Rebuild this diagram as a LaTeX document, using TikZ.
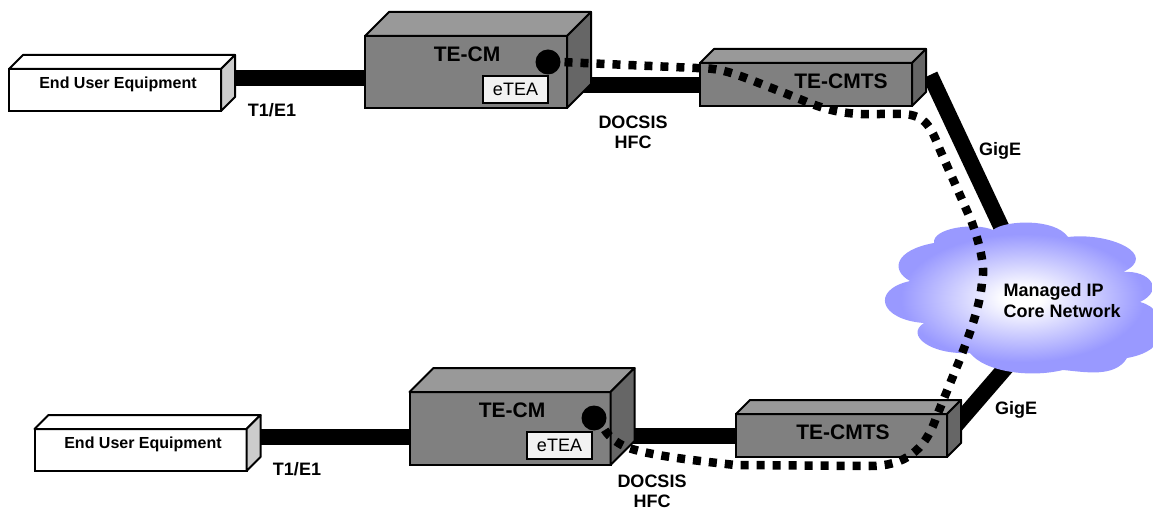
\documentclass[tikz,border=0pt]{standalone}
\usepackage{fontspec}
\setmainfont{Liberation Sans}
\usetikzlibrary{calc,backgrounds}

\definecolor{cloudblue}{HTML}{9999FF}
\pgfdeclareradialshading{cloudglow}{\pgfpointorigin}{color(0bp)=(white); color(3bp)=(white); color(20bp)=(cloudblue); color(100bp)=(cloudblue)}

\tikzset{
  front/.style={draw, line width=2pt, fill=black!50, outer sep=0pt, inner sep=0pt},
  bar/.style={line width=16pt},
  tunnel/.style={line width=8.5pt, dash pattern=on 8pt off 8pt},
  port/.style={circle, fill=black, minimum size=25pt, inner sep=0pt, outer sep=0pt},
  tag/.style={draw, line width=2pt, fill=black!5, minimum width=65pt, minimum height=27pt, inner sep=0pt, font=\fontsize{18}{21}\selectfont},
  boxname/.style={font=\fontsize{21}{24}\selectfont\bfseries},
  linkname/.style={align=center, font=\fontsize{18}{20.5}\selectfont\bfseries},
  username/.style={font=\fontsize{16}{18}\selectfont\bfseries}
}

\newcommand{\boxfaces}[4]{
\draw[line width=2pt, line join=round, fill=#3] (#1.north west)--++(#2,-#2)--($(#1.north east)+(#2,-#2)$)--(#1.north east)--cycle;
\draw[line width=2pt, line join=round, fill=#4] (#1.north east)--++(#2,-#2)--($(#1.south east)+(#2,-#2)$)--(#1.south east)--cycle;
}

\begin{document}
\begin{tikzpicture}[x=1pt,y=-1pt]
\clip (0,0) rectangle (1153,510);

\node[front, fill=white, minimum width=212pt, minimum height=42pt] (eu1) at (115,90) {};
\node[front, minimum width=202pt, minimum height=72pt] (tecm1) at (466,72) {};
\node[front, minimum width=212pt, minimum height=43pt] (cmts1) at (806,84.5) {};
\node[front, fill=white, minimum width=212pt, minimum height=42pt] (eu2) at (140.5,450) {};
\node[front, minimum width=201pt, minimum height=73pt] (tecm2) at (510,428.5) {};
\node[front, minimum width=211pt, minimum height=43pt] (cmts2) at (841.5,435.5) {};

\boxfaces{eu1}{14}{white}{black!20}
\boxfaces{tecm1}{24}{black!40}{black!60}
\boxfaces{cmts1}{14}{black!40}{black!60}
\boxfaces{eu2}{14}{white}{black!20}
\boxfaces{tecm2}{24}{black!40}{black!60}
\boxfaces{cmts2}{14}{black!40}{black!60}

\node[username] (eu1name) at (118,84.5) {End User Equipment};
\node[username] (eu2name) at (143,444.5) {End User Equipment};
\node[boxname] (tecm1name) at (467,54) {TE-CM};
\node[boxname] (tecm2name) at (512,410) {TE-CM};
\node[boxname] (cmts1name) at (841,81) {TE-CMTS};
\node[boxname] (cmts2name) at (843,432) {TE-CMTS};

\node[tag] (etea1) at (515.5,89.5) {eTEA};
\node[tag] (etea2) at (559.5,445.5) {eTEA};
\node[port] (port1) at (548,62) {};
\node[port] (port2) at (594,418) {};

\node[linkname] (t1e1a) at (272,110) {T1/E1};
\node[linkname] (t1e1b) at (297,469) {T1/E1};
\node[linkname] (docsis1) at (633,132.5) {DOCSIS\\HFC};
\node[linkname] (docsis2) at (652,491.5) {DOCSIS\\HFC};
\node[linkname] (gige1) at (1000,151) {GigE};
\node[linkname] (gige2) at (1016,410) {GigE};
\node[linkname, align=left, anchor=west] (core) at (1000,300.5) {Managed IP\\Core Network};

\coordinate (core1) at (1012,250);
\coordinate (core2) at (1014,358);

\begin{pgfonlayer}{background}
\draw[bar] (eu1.east |- 0,78)--(tecm1.west |- 0,78);
\draw[bar] (tecm1.east |- 0,85)--(cmts1.west |- 0,85);
\draw[bar] (eu2.east |- 0,437)--(tecm2.west |- 0,437);
\draw[bar] (tecm2.east |- 0,436)--(cmts2.west |- 0,436);
\draw[bar] (930,75)--(core1);
\draw[bar] (cmts2.east)--(core2);

\shade[shading=cloudglow] (934,243)
  .. controls (932,228) and (975,222) .. (993,230)
  .. controls (1005,220) and (1055,218) .. (1068,237)
  .. controls (1110,232) and (1160,255) .. (1123,272)
  .. controls (1150,270) and (1165,290) .. (1140,302)
  .. controls (1170,310) and (1175,350) .. (1127,358)
  .. controls (1115,378) and (1085,372) .. (1063,370)
  .. controls (1030,378) and (985,372) .. (970,353)
  .. controls (930,355) and (905,335) .. (924,323)
  .. controls (880,320) and (870,290) .. (910,281)
  .. controls (890,270) and (895,250) .. (934,243)--cycle;
\end{pgfonlayer}

\draw[tunnel, dash phase=12pt] (port1.east)--(696,68)
  .. controls (725,68) and (735,74) .. (787,94)
  --(802,100)
  .. controls (830,112) and (850,115) .. (880,114)
  --(896,114)
  .. controls (925,113) and (930,125) .. (940,150)
  --(971,220)
  .. controls (982,250) and (985,270) .. (982,282)
  .. controls (980,310) and (965,345) .. (960,359)
  --(936,418)
  .. controls (925,450) and (905,466) .. (870,466)
  --(735,465)
  .. controls (700,461) and (650,456) .. (626,447)
  .. controls (615,442) and (608,436) .. (port2.south east);
\end{tikzpicture}
\end{document}
